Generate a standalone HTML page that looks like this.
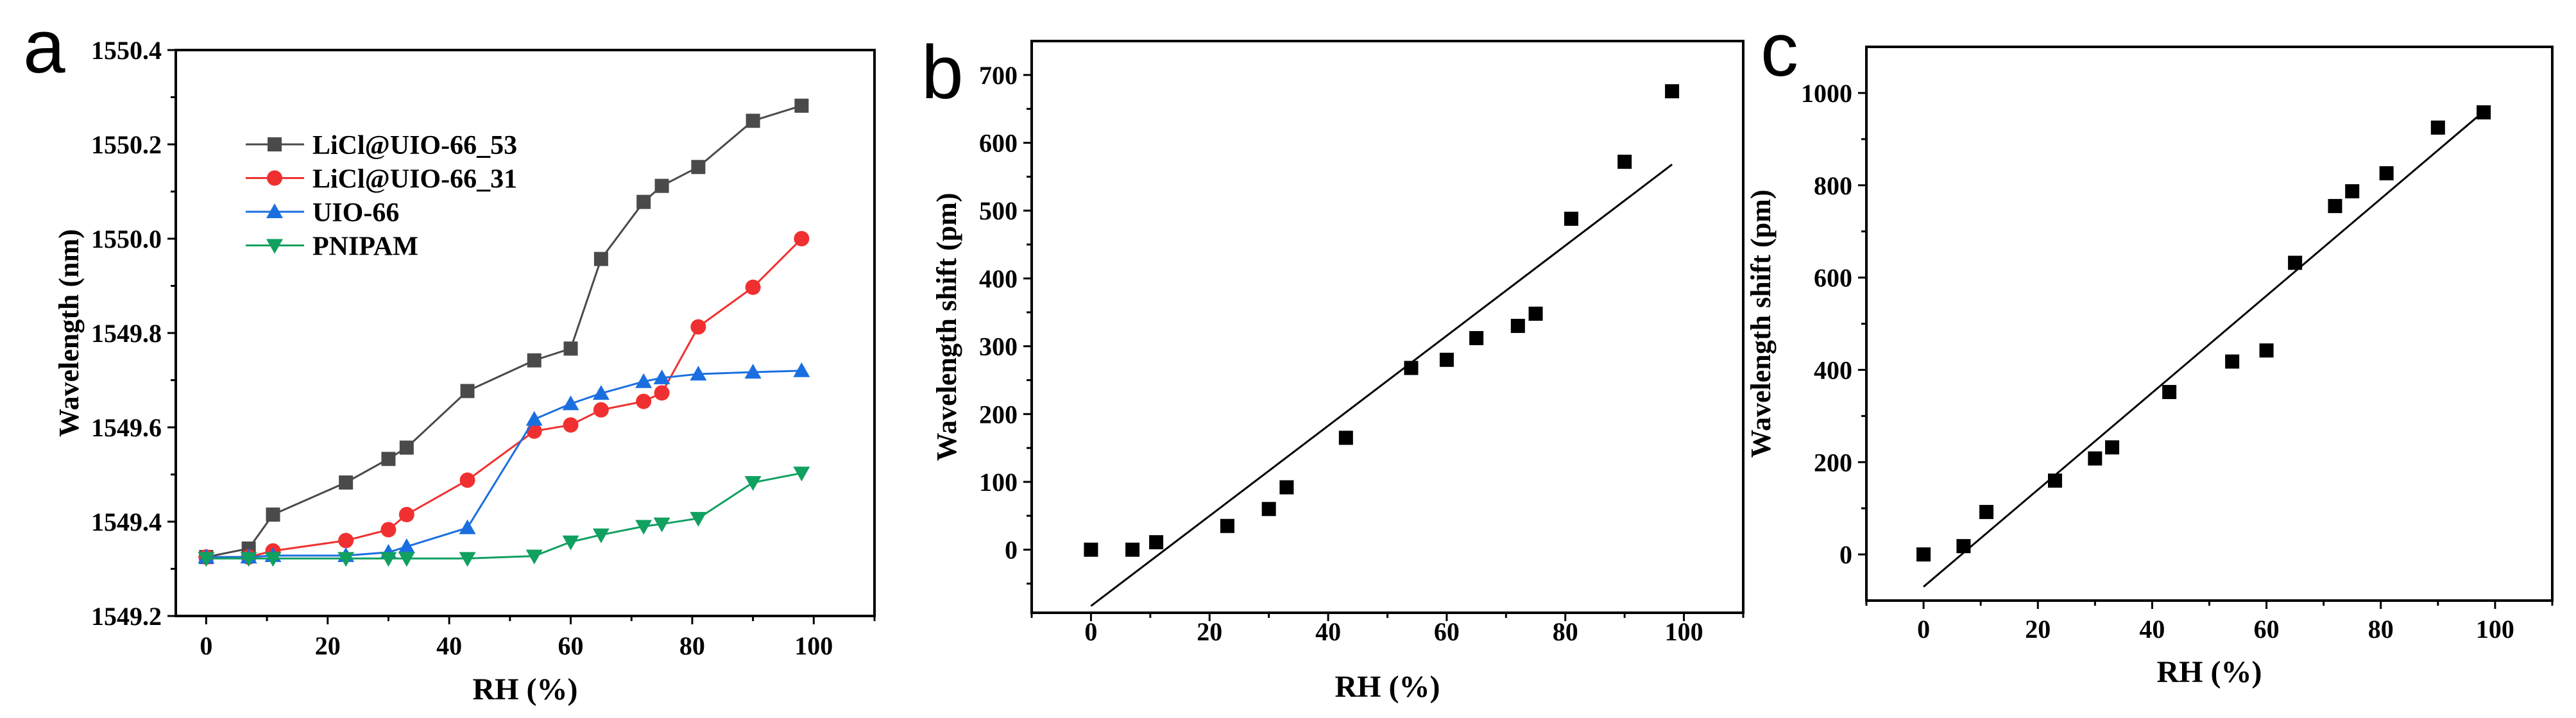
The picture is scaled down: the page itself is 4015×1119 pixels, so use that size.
<!DOCTYPE html>
<html><head><meta charset="utf-8"><style>
html,body{margin:0;padding:0;background:#fff;}
svg{display:block;}
text{font-family:"Liberation Serif",serif;font-weight:bold;fill:#000;}
.lab{font-family:"Liberation Sans",sans-serif;font-weight:normal;}
</style></head><body>
<svg id="fig" width="4015" height="1119" viewBox="0 0 4015 1119" xmlns="http://www.w3.org/2000/svg"></svg>
<script>
const rh = [0,7,11,23,30,33,43,54,60,65,72,75,81,90,98];
const licl53 = [1549.325,1549.343,1549.415,1549.483,1549.533,1549.557,1549.677,1549.742,1549.767,1549.957,1550.078,1550.112,1550.152,1550.250,1550.282];
const licl31 = [1549.325,1549.325,1549.338,1549.360,1549.383,1549.415,1549.488,1549.592,1549.605,1549.637,1549.655,1549.673,1549.813,1549.897,1550.000];
const uio66 = [1549.325,1549.325,1549.328,1549.328,1549.335,1549.347,1549.387,1549.617,1549.650,1549.672,1549.697,1549.705,1549.713,1549.717,1549.720];
const pnipam = [1549.322,1549.322,1549.322,1549.322,1549.322,1549.322,1549.322,1549.327,1549.357,1549.372,1549.390,1549.395,1549.407,1549.483,1549.503];
const shiftB = [0,0,11,35,60,92,165,268,280,312,330,348,488,572,676];
const fitB = [-83,568];
const shiftC = [0,18,92,160,208,232,352,418,442,632,755,787,826,925,958];
const fitC = [-70,960];
const fitX = [0,98];
const ticksXA = [0,20,40,60,80,100];
const ticksYA = [1549.2,1549.4,1549.6,1549.8,1550.0,1550.2,1550.4];
const ticksYB = [0,100,200,300,400,500,600,700];
const ticksYC = [0,200,400,600,800,1000];

const NS="http://www.w3.org/2000/svg";
const svg=document.getElementById('fig');
function mk(tag,attrs,parent){const e=document.createElementNS(NS,tag);for(const k in attrs)e.setAttribute(k,attrs[k]);(parent||svg).appendChild(e);return e;}

function panel(p){
  const g=mk('g',{});
  
  
  const sx=v=>p.L+(v-p.x0)/(p.x1-p.x0)*(p.R-p.L);
  const sy=v=>p.B-(v-p.y0)/(p.y1-p.y0)*(p.B-p.T);
  const fr=mk('rect',{x:p.L,y:p.T,width:p.R-p.L,height:p.B-p.T,fill:'none',stroke:'#000','stroke-width':4},g);
  
  
  // x ticks
  for(let v=p.xminor0;v<=p.x1;v+=10){
    const major=p.xt.includes(v);
    mk('line',{x1:sx(v),x2:sx(v),y1:p.B,y2:p.B+(major?13:8),stroke:'#000','stroke-width':3},g);
  }
  p.xt.forEach(v=>{
    const t=mk('text',{x:sx(v),y:p.xly,'font-size':40,'text-anchor':'middle'},g);
    t.textContent=v;
    
    
  });
  // y ticks
  for(let i=0;i<p.yt.length;i++){
    const v=p.yt[i];
    mk('line',{x1:p.L,x2:p.L-13,y1:sy(v),y2:sy(v),stroke:'#000','stroke-width':3},g);
    const t=mk('text',{x:p.L-22,y:sy(v)+14,'font-size':40,'text-anchor':'end'},g);
    t.textContent=p.fmt(v);
    
    
  }
  p.ym.forEach(v=>{ if(sy(v)>p.T&&sy(v)<p.B) mk('line',{x1:p.L,x2:p.L-8,y1:sy(v),y2:sy(v),stroke:'#000','stroke-width':3},g);});
  const xt=mk('text',{x:(p.L+p.R)/2+(p.xtOff||0),y:p.xty,'font-size':48,'text-anchor':'middle'},g);
  xt.textContent='RH (%)';
  
  
  const yt=mk('text',{x:0,y:0,'font-size':44,'text-anchor':'middle',transform:`translate(${p.ytx},${(p.T+p.B)/2+p.ytOff}) rotate(-90)`},g);
  yt.textContent=p.ytitle;
  
  
  const lb=mk('text',{x:p.lx,y:p.ly,'font-size':118,class:'lab'},g);
  lb.textContent=p.letter;
  
  
  return {g,sx,sy};
}

function marker(g,type,x,y,color){
  let e;
  if(type==='sq') e=mk('rect',{x:x-11,y:y-11,width:22,height:22,fill:color},g);
  else if(type==='ci') e=mk('circle',{cx:x,cy:y,r:12,fill:color},g);
  else if(type==='up') e=mk('polygon',{points:`${x},${y-13} ${x-13},${y+10} ${x+13},${y+10}`,fill:color},g);
  else e=mk('polygon',{points:`${x},${y+13} ${x-13},${y-10} ${x+13},${y-10}`,fill:color},g);
  return e;
}

// Panel a
const A=panel({name:'panel-a',L:274,R:1363,T:78,B:960,x0:-5,x1:110,y0:1549.2,y1:1550.4,xt:ticksXA,xminor0:0,
  yt:ticksYA,ym:[1549.3,1549.5,1549.7,1549.9,1550.1,1550.3],fmt:v=>v.toFixed(1),xly:1020,xty:1090,ytx:122,ytOff:0,
  ytitle:'Wavelength (nm)',letter:'a',lx:36,ly:113});
const seriesA=[[licl53,'#4a4a4a','sq','LiCl@UIO-66_53','series-licl53'],[licl31,'#f03030','ci','LiCl@UIO-66_31','series-licl31'],
  [uio66,'#1a6fe0','up','UIO-66','series-uio66'],[pnipam,'#10a060','dn','PNIPAM','series-pnipam']];
seriesA.forEach((s,k)=>{
  const sg=mk('g',{},A.g);
  
  
  mk('polyline',{points:rh.map((x,i)=>A.sx(x)+','+A.sy(s[0][i])).join(' '),fill:'none',stroke:s[1],'stroke-width':3},sg);
  rh.forEach((x,i)=>{const m=marker(sg,s[2],A.sx(x),A.sy(s[0][i]),s[1]);
    
    });
  const ly=225+k*52.5;
  const le=mk('g',{},A.g);
  
  
  mk('line',{x1:383,x2:474,y1:ly,y2:ly,stroke:s[1],'stroke-width':3},le);
  marker(le,s[2],428,ly,s[1]);
  const t=mk('text',{x:487,y:ly+15,'font-size':42},le);
  t.textContent=s[3];
});

// Panel b
const Bp=panel({name:'panel-b',L:1608,R:2717,T:64,B:955,x0:-10,x1:110,y0:-93,y1:750,xt:ticksXA,xminor0:-10,
  yt:ticksYB,ym:[-50,50,150,250,350,450,550,650],fmt:v=>v,xly:998,xty:1086,ytx:1490,ytOff:0,
  ytitle:'Wavelength shift (pm)',letter:'b',lx:1436,ly:153});
// Panel c
const Cp=panel({name:'panel-c',L:2909,R:3978,T:73,B:936,x0:-10,x1:110,y0:-100,y1:1100,xt:ticksXA,xminor0:-10,
  yt:ticksYC,ym:[-100,100,300,500,700,900],fmt:v=>v,xly:994,xty:1063,ytx:2759,ytOff:0,
  ytitle:'Wavelength shift (pm)',letter:'c',lx:2744,ly:118});

[[Bp,shiftB,fitB],[Cp,shiftC,fitC]].forEach(([P,d,f])=>{
  const fl=mk('line',{x1:P.sx(fitX[0]),y1:P.sy(f[0]),x2:P.sx(fitX[1]),y2:P.sy(f[1]),stroke:'#000','stroke-width':3},P.g);
  
  
  rh.forEach((x,i)=>{const m=marker(P.g,'sq',P.sx(x),P.sy(d[i]),'#000');
    
    });
});
</script>
</body></html>
